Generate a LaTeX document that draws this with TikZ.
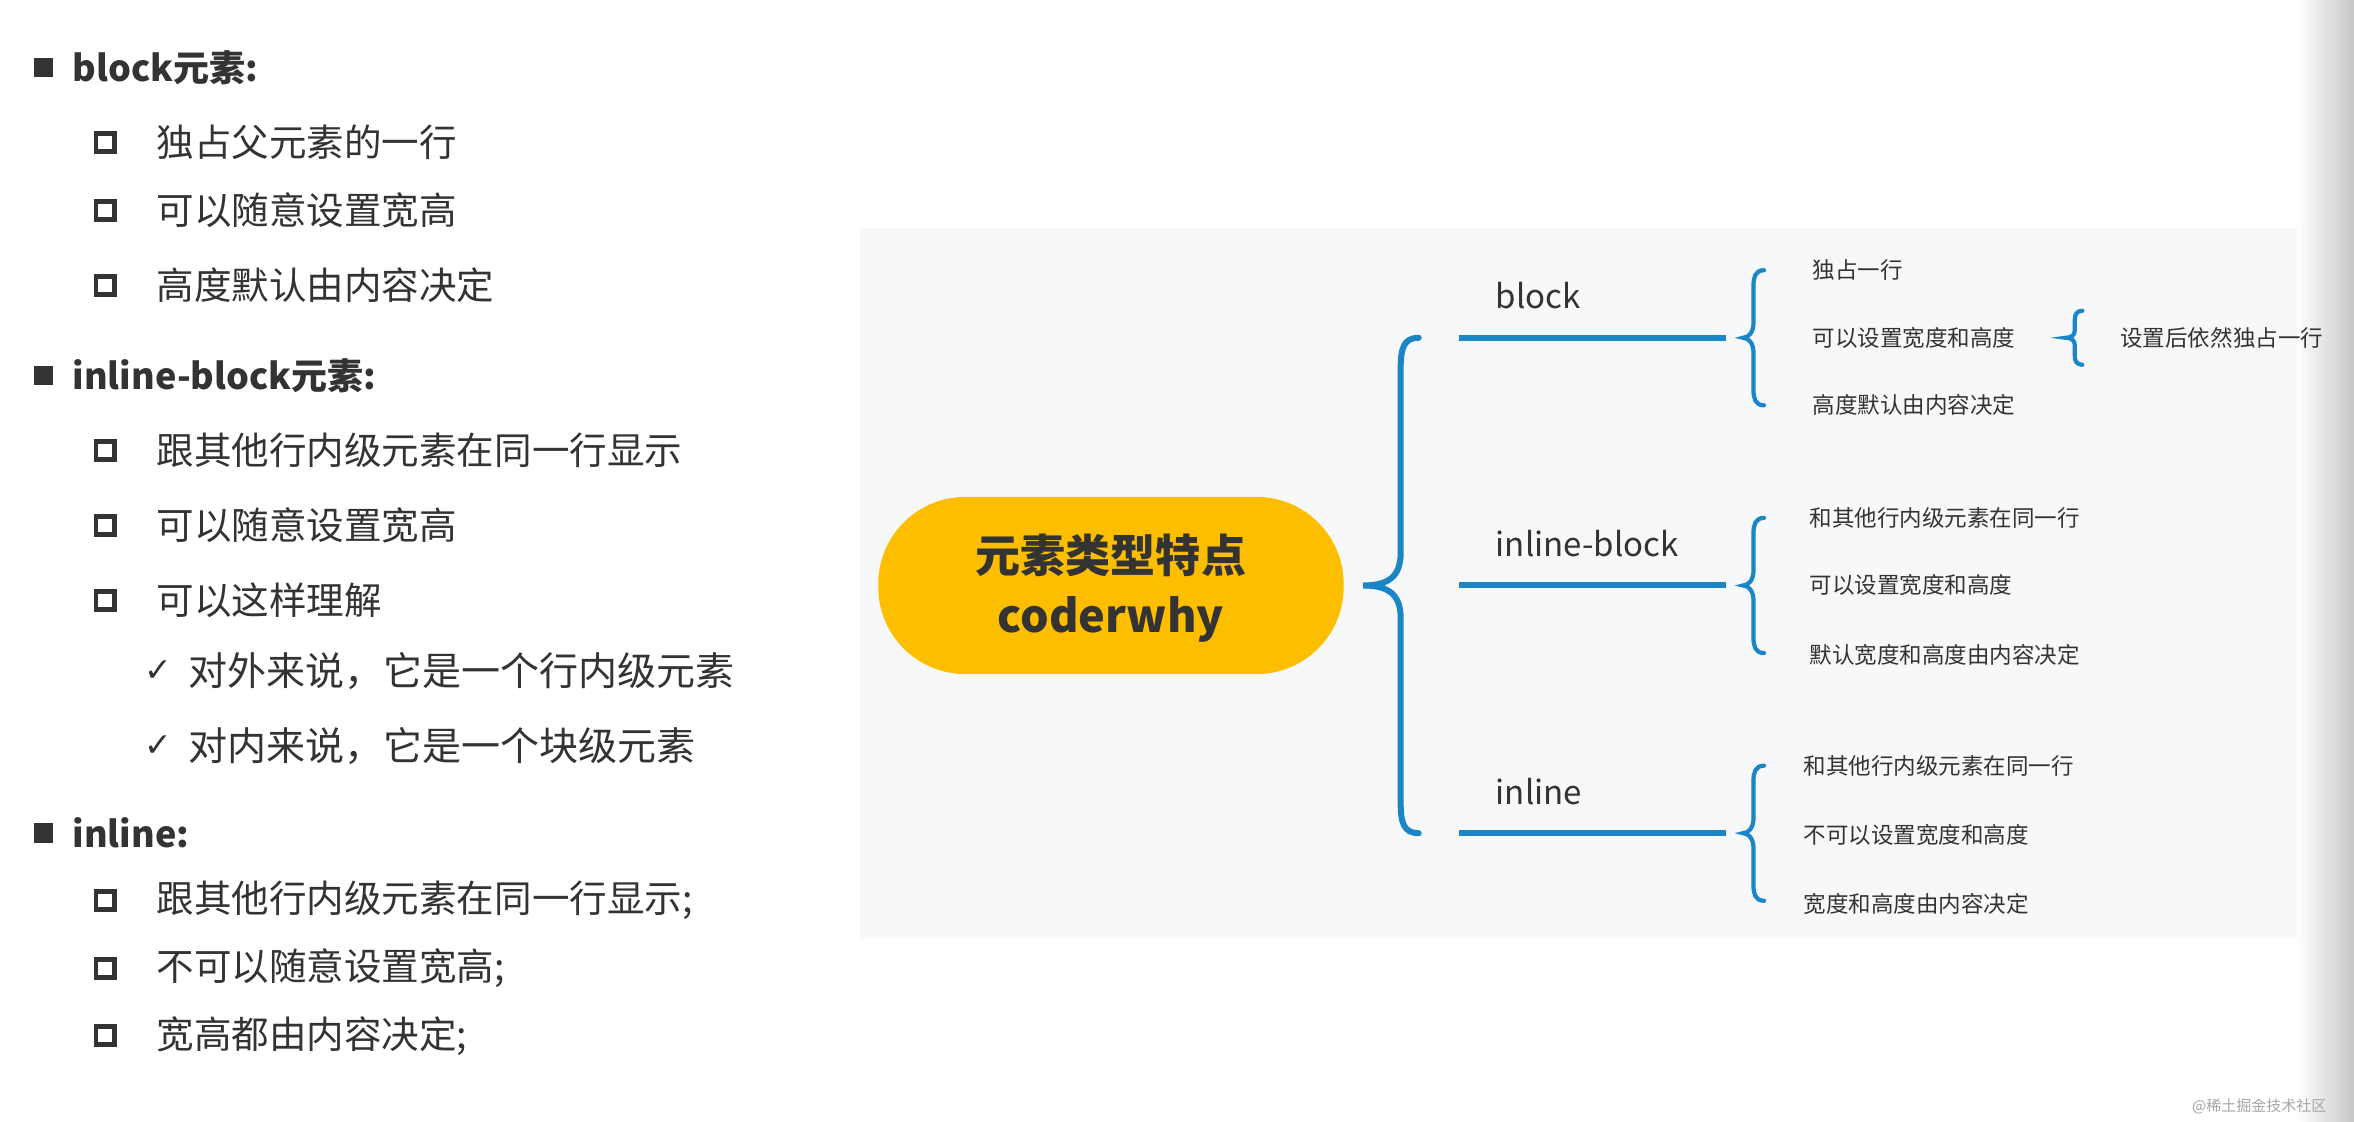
\documentclass[tikz,border=0pt]{standalone}
\usepackage{fontspec}
\setmainfont{Noto Sans CJK SC}
\newfontfamily\dv{DejaVu Sans}
\definecolor{txt}{HTML}{333333}
\definecolor{blu}{HTML}{1A86C8}
\definecolor{ylw}{HTML}{FDBE00}
\definecolor{pan}{HTML}{F7F8FA}
\begin{document}
\begin{tikzpicture}[x=0.5pt,y=-0.5pt,
  main/.style={anchor=west,inner sep=0,font=\fontsize{12}{12}\selectfont\bfseries,text=txt},
  sub/.style={anchor=west,inner sep=0,font=\fontsize{12.5}{12}\selectfont,text=txt},
  chk/.style={anchor=west,inner sep=0,font=\fontsize{13}{12}\selectfont,text=txt},
  fb/.style={fill=txt,minimum size=6.5pt,inner sep=0},
  hb/.style={draw=txt,line width=1.6pt,minimum size=6pt,inner sep=0},
  lab/.style={anchor=west,inner sep=0,font=\fontsize{11}{12}\selectfont,text=txt},
  itm/.style={anchor=west,inner sep=0,font=\fontsize{7.5}{8}\selectfont,text=txt},
  bl/.style={blu,line width=2pt,line cap=round}]
\useasboundingbox (0,0) rectangle (1568,747);
\fill[white] (0,0) rectangle (1568,747);
% panel
\fill[pan] (573,152) rectangle (1530,625);
\shade[left color=white,right color=black!22] (1530,0) rectangle (1568,747);
% left list
\foreach \y/\t in {45/block元素:,250/inline-block元素:,555/inline:}{
  \node[fb] at (29,\y) {}; \node[main] at (48,\y) {\t};}
\foreach \y/\t in {95/独占父元素的一行,140/可以随意设置宽高,190/高度默认由内容决定,300/跟其他行内级元素在同一行显示,350/可以随意设置宽高,400/可以这样理解,600/跟其他行内级元素在同一行显示;,645/不可以随意设置宽高;,690/宽高都由内容决定;}{
  \node[hb] at (70,\y) {}; \node[sub] at (104,\y) {\t};}
\foreach \y/\t in {447/对外来说，它是一个行内级元素,497/对内来说，它是一个块级元素}{
  \node[anchor=west,inner sep=0,text=txt,font=\dv\fontsize{11}{11}\selectfont] at (96,\y) {✓};
  \node[chk] at (125,\y) {\t};}
% center
\node[fill=ylw,minimum width=155pt,minimum height=59pt,rounded corners=29pt] (c) at (740,390) {};
\node[align=center,text=txt,font=\fontsize{15}{20}\selectfont\bfseries] (ct) at (740,392) {元素类型特点\\coderwhy};
% big brace
\coordinate (bt) at (908,390);
\coordinate (b1) at (945,225); \coordinate (b3) at (945,555);
\draw[bl] (b1) .. controls (935,225) and (933,232) .. (933,245) -- (933,368) .. controls (933,384) and (925,390) .. (bt)
  .. controls (925,390) and (933,396) .. (933,412) -- (933,535) .. controls (933,548) and (935,555) .. (b3);
% branches
\foreach \n/\y/\t in {1/225/block,2/390/inline-block,3/555/inline}{
  \coordinate (l\n a) at (972,\y); \coordinate (l\n b) at (1150,\y);
  \draw[blu,line width=2pt] (l\n a) -- (l\n b);
  \node[lab] (lab\n) at (996,\y-28) {\t};
  \coordinate (s\n) at (1161,\y);
  \draw[bl,line width=1.4pt] (1175,\y-45) .. controls (1169,\y-45) and (1168,\y-40) .. (1168,\y-35) -- (1168,\y-10) .. controls (1168,\y-4) and (1165,\y) .. (s\n)
    .. controls (1165,\y) and (1168,\y+4) .. (1168,\y+10) -- (1168,\y+35) .. controls (1168,\y+40) and (1169,\y+45) .. (1175,\y+45);
}
\node[itm] (i11) at (1207,180) {独占一行};
\node[itm] (i12) at (1207,225) {可以设置宽度和高度};
\node[itm] (i13) at (1207,270) {高度默认由内容决定};
\node[itm] (i21) at (1205,345) {和其他行内级元素在同一行};
\node[itm] (i22) at (1205,390) {可以设置宽度和高度};
\node[itm] (i23) at (1205,436) {默认宽度和高度由内容决定};
\node[itm] (i31) at (1201,510) {和其他行内级元素在同一行};
\node[itm] (i32) at (1201,556) {不可以设置宽度和高度};
\node[itm] (i33) at (1201,602) {宽度和高度由内容决定};
% third brace
\coordinate (t) at (1376,225);
\draw[bl,line width=1.4pt] (1387,207) .. controls (1383,207) and (1382,210) .. (1382,213) -- (1382,220) .. controls (1382,223) and (1380,225) .. (t)
  .. controls (1380,225) and (1382,227) .. (1382,230) -- (1382,237) .. controls (1382,240) and (1383,243) .. (1387,243);
\node[itm] (i4) at (1412,225) {设置后依然独占一行};
\node[anchor=east,inner sep=0,text=black!35,font=\fontsize{5}{5}\selectfont] (wm) at (1550,737) {@稀土掘金技术社区};
\end{tikzpicture}
\end{document}
